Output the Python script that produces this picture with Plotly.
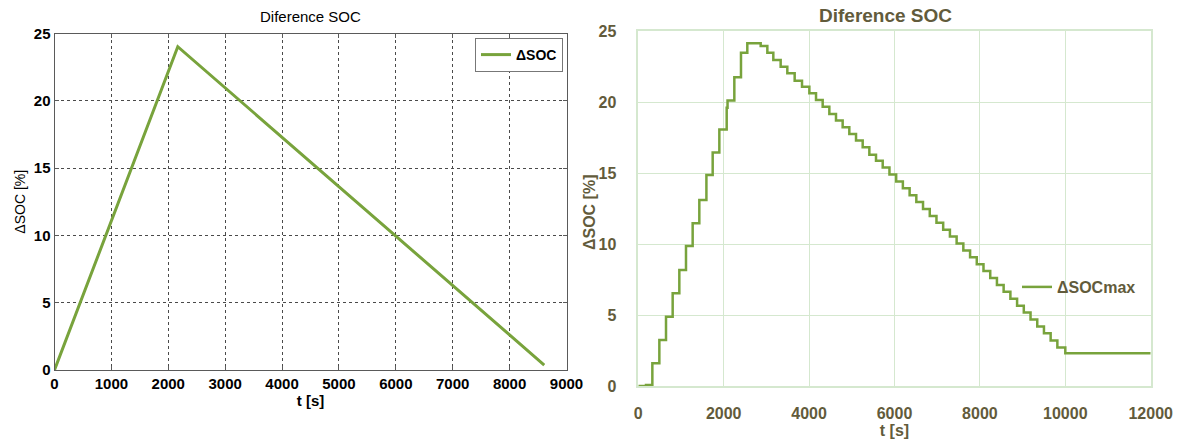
import plotly.graph_objects as go

# Simulated SOC difference: linear charge ramp then linear discharge
sim_t = [0, 2167, 8609]
sim_dsoc = [0.0, 24.02, 0.37]

# Measured maximum SOC difference, sampled as a staircase (t in s, value held until next t)
meas_t = [0, 180, 329, 493, 649, 805, 961, 1117, 1273, 1429, 1595, 1742, 1898,
          2070, 2090, 2249, 2405, 2553, 2866, 3022, 3162, 3334, 3490, 3662, 3834,
          4006, 4162, 4318, 4474, 4630, 4786, 4942, 5099, 5255, 5411, 5567, 5724,
          5882, 6039, 6196, 6354, 6511, 6668, 6826, 6983, 7140, 7298, 7455, 7612,
          7770, 7927, 8084, 8242, 8399, 8556, 8714, 8871, 9028, 9186, 9343, 9500,
          9657, 9814, 10000, 12000]
meas_dsoc = [0.0, 0.07, 1.60, 3.24, 4.88, 6.53, 8.17, 9.86, 11.46, 13.10, 14.86,
             16.45, 18.07, 19.60, 20.10, 21.74, 23.47, 24.13, 23.94, 23.47, 22.96,
             22.49, 22.02, 21.50, 21.08, 20.61, 20.14, 19.67, 19.15, 18.69, 18.22,
             17.75, 17.28, 16.81, 16.29, 15.87, 15.38, 14.90, 14.41, 13.93, 13.44,
             12.95, 12.47, 11.98, 11.49, 11.01, 10.52, 10.03, 9.55, 9.06, 8.57,
             8.09, 7.60, 7.11, 6.63, 6.14, 5.65, 5.17, 4.68, 4.19, 3.71, 3.20, 2.72,
             2.30, 2.30]

left_xticks = [0, 1000, 2000, 3000, 4000, 5000, 6000, 7000, 8000, 9000]
right_xticks = [0, 2000, 4000, 6000, 8000, 10000, 12000]
yticks = [0, 5, 10, 15, 20, 25]

GREEN = "#78a33c"
OLIVE = "#625b3b"
GRID_L = "#4a4a4a"
GRID_R = "#d5e8cf"
W, H = 1181, 439

fig = go.Figure()

fig.add_trace(go.Scatter(
    x=sim_t, y=sim_dsoc, mode="lines", name="ΔSOC",
    line=dict(color=GREEN, width=3), xaxis="x", yaxis="y", legend="legend"))

fig.add_trace(go.Scatter(
    x=meas_t, y=meas_dsoc, mode="lines", name="ΔSOCmax",
    line=dict(color=GREEN, width=2.5, shape="hv"), xaxis="x2", yaxis="y2",
    legend="legend2"))

def px_x(p):
    return p / W

def px_y(p):
    return 1 - p / H

left_font = dict(family="Liberation Sans, Arial, sans-serif", color="black")
right_font = dict(family="Liberation Sans, Arial, sans-serif", color=OLIVE)

fig.update_layout(
    width=W, height=H,
    margin=dict(l=0, r=0, t=0, b=0, autoexpand=False),
    paper_bgcolor="white", plot_bgcolor="white",
    showlegend=True,
    xaxis=dict(
        domain=[px_x(54.5), px_x(566.5)], range=[0, 9000], tickvals=left_xticks,
        tickformat="d", automargin=False,
        showgrid=True, gridcolor=GRID_L, griddash="dot", gridwidth=1,
        showline=True, linecolor="#5a5a5a", linewidth=1, mirror="ticks",
        ticks="inside", ticklen=4, tickcolor="#5a5a5a",
        tickfont=dict(size=15, weight="bold", **left_font),
        title=dict(text="t [s]", font=dict(size=15, weight="bold", **left_font), standoff=2),
        zeroline=False, anchor="y"),
    yaxis=dict(
        domain=[px_y(370), px_y(33.5)], range=[0, 25], tickvals=yticks,
        automargin=False,
        showgrid=True, gridcolor=GRID_L, griddash="dot", gridwidth=1,
        showline=True, linecolor="#5a5a5a", linewidth=1, mirror="ticks",
        ticks="inside", ticklen=4, tickcolor="#5a5a5a",
        tickfont=dict(size=15, weight="bold", **left_font),
        title=dict(text="ΔSOC [%]", font=dict(size=14, **left_font), standoff=4),
        zeroline=False, anchor="x"),
    xaxis2=dict(
        domain=[px_x(638.3), px_x(1150.7)], range=[0, 12000], tickvals=right_xticks,
        tickformat="d", automargin=False,
        showgrid=True, gridcolor=GRID_R, gridwidth=1,
        showline=True, linecolor=GRID_R, linewidth=1.5, mirror=True,
        ticks="", ticklabelstandoff=12,
        tickfont=dict(size=16, weight="bold", **right_font),
        title=dict(text="t [s]", font=dict(size=16, weight="bold", **right_font), standoff=4),
        zeroline=False, anchor="y2"),
    yaxis2=dict(
        domain=[px_y(386), px_y(31)], range=[0, 25], tickvals=yticks,
        automargin=False,
        showgrid=True, gridcolor=GRID_R, gridwidth=1,
        showline=True, linecolor=GRID_R, linewidth=1.5, mirror=True,
        ticks="", ticklabelstandoff=17,
        tickfont=dict(size=16, weight="bold", **right_font),
        zeroline=False, anchor="x2"),
    legend=dict(
        x=px_x(563), y=px_y(38), xanchor="right", yanchor="top",
        bgcolor="white", bordercolor="#777777", borderwidth=1,
        font=dict(size=14, weight="bold", **left_font),
        itemwidth=30, tracegroupgap=0),
    legend2=dict(
        x=px_x(1017), y=px_y(287), xanchor="left", yanchor="middle",
        bgcolor="rgba(0,0,0,0)", borderwidth=0,
        font=dict(size=16, weight="bold", **right_font), itemwidth=30),
    annotations=[
        dict(text="Diference SOC", x=px_x(310.5), y=px_y(17), xref="paper", yref="paper",
             showarrow=False, xanchor="center", yanchor="middle",
             font=dict(size=15, **left_font)),
        dict(text="Diference SOC", x=px_x(885), y=px_y(16), xref="paper", yref="paper",
             showarrow=False, xanchor="center", yanchor="middle",
             font=dict(size=19, weight="bold", **right_font)),
        dict(text="ΔSOC [%]", x=px_x(590), y=px_y(212), xref="paper", yref="paper",
             showarrow=False, xanchor="center", yanchor="middle", textangle=-90,
             font=dict(size=16, weight="bold", **right_font)),
    ],
)

fig.write_html("out.html")
